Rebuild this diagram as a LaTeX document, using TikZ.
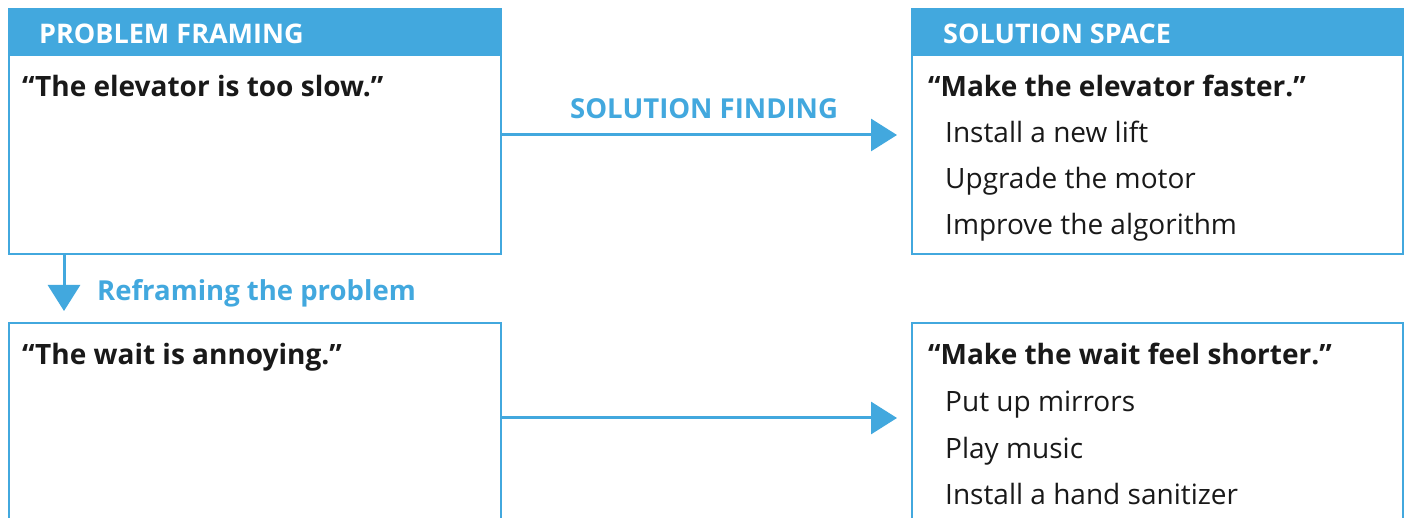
\documentclass[tikz,border=0pt]{standalone}
\usepackage{fontspec}
\setmainfont{Open Sans}
\usetikzlibrary{arrows.meta}
\definecolor{hbrblue}{RGB}{66,168,222}
\definecolor{txt}{RGB}{25,25,25}
\tikzset{
  box/.style={draw=hbrblue, line width=2.5pt},
  head/.style={fill=hbrblue},
  headtxt/.style={anchor=base west, inner sep=0pt, text=white, font=\fontsize{27}{27}\selectfont\bfseries},
  quote/.style={anchor=base west, inner sep=0pt, text=txt, font=\fontsize{28}{28}\selectfont\bfseries},
  item/.style={anchor=base west, inner sep=0pt, text=txt, font=\fontsize{28}{28}\selectfont},
  lbl/.style={anchor=base west, inner sep=0pt, text=hbrblue, font=\fontsize{27.5}{27.5}\selectfont\bfseries},
  conn/.style={draw=hbrblue, line width=3pt, -{Triangle[length=26pt,width=32pt]}},
}
\begin{document}
\begin{tikzpicture}[x=1pt,y=-1pt]
\useasboundingbox (0,0) rectangle (1406,518);
\fill[white] (0,0) rectangle (1406,518);
% top-left
\fill[head] (9,9) rectangle (501,56);
\draw[box] (9,9) rectangle (501,254);
\node[headtxt] (h1) at (39,44) {PROBLEM FRAMING};
\node[quote] (q1) at (22,97) {“The elevator is too slow.”};
% top-right
\fill[head] (912,9) rectangle (1403,56);
\draw[box] (912,9) rectangle (1403,254);
\node[headtxt] (h2) at (943,44) {SOLUTION SPACE};
\node[quote] (q2) at (928,97) {“Make the elevator faster.”};
\node[item] (i1) at (945,143) {Install a new lift};
\node[item] (i2) at (945,189) {Upgrade the motor};
\node[item] (i3) at (945,235) {Improve the algorithm};
% bottom-left
\draw[box] (9,530) -- (9,323) -- (501,323) -- (501,530);
\node[quote] (q3) at (22,365) {“The wait is annoying.”};
% bottom-right
\draw[box] (912,530) -- (912,323) -- (1403,323) -- (1403,530);
\node[quote] (q4) at (928,365) {“Make the wait feel shorter.”};
\node[item] (i4) at (945,412) {Put up mirrors};
\node[item] (i5) at (945,458) {Play music};
\node[item] (i6) at (945,504) {Install a hand sanitizer};
% connectors
\coordinate (a1s) at (501,135);
\coordinate (a1e) at (897,135);
\draw[conn] (a1s) -- (a1e);
\node[lbl] (l1) at (570,119) {SOLUTION FINDING};
\coordinate (a2s) at (501,418);
\coordinate (a2e) at (897,418);
\draw[conn] (a2s) -- (a2e);
\coordinate (a3s) at (64,254);
\coordinate (a3e) at (64,311);
\draw[conn] (a3s) -- (a3e);
\node[lbl] (l2) at (97,301) {Reframing the problem};
\end{tikzpicture}
\end{document}
